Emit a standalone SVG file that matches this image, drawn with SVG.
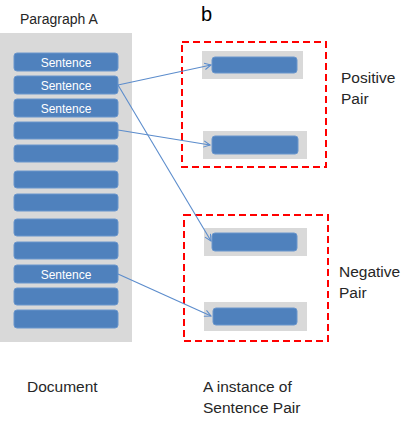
<svg xmlns="http://www.w3.org/2000/svg" width="418" height="423" viewBox="0 0 418 423">
<style>
text{font-family:"Liberation Sans",Arial,sans-serif;fill:#262626}
.bar{fill:#4f81bd;stroke:#6a96cc;stroke-width:1}
.bg{fill:#d9d9d9}
.st{fill:#ffffff;font-size:12px;text-anchor:middle}
.lbl{font-size:15.5px}
.red{fill:none;stroke:#ff0000;stroke-width:2;stroke-dasharray:7,4}
.conn{fill:none;stroke:#5b8ccc;stroke-width:1.1;marker-end:url(#ah)}
</style>
<defs>
<marker id="ah" viewBox="0 0 10 10" refX="9" refY="5" markerWidth="8" markerHeight="8" markerUnits="userSpaceOnUse" orient="auto">
<path d="M1,1 L9,5 L1,9" fill="none" stroke="#5b8ccc" stroke-width="1.3"/>
</marker>
</defs>
<rect width="418" height="423" fill="#ffffff"/>
<g id="document">
<rect class="bg" x="0" y="33" width="132" height="309"/>
<text x="20" y="24" style="font-size:14px">Paragraph A</text>
<text class="lbl" x="27" y="392">Document</text>
</g>
<g id="sentences">
<g id="s1"><rect class="bar" x="14" y="53" width="104" height="18" rx="3"/><text class="st" x="66" y="66.5">Sentence</text></g>
<g id="s2"><rect class="bar" x="14" y="76" width="104" height="18" rx="3"/><text class="st" x="66" y="89.5">Sentence</text></g>
<g id="s3"><rect class="bar" x="14" y="99" width="104" height="18" rx="3"/><text class="st" x="66" y="112.5">Sentence</text></g>
<g id="s4"><rect class="bar" x="14" y="122" width="104" height="17" rx="3"/></g>
<g id="s5"><rect class="bar" x="14" y="145" width="104" height="17" rx="3"/></g>
<g id="s6"><rect class="bar" x="14" y="171" width="104" height="17" rx="3"/></g>
<g id="s7"><rect class="bar" x="14" y="194" width="104" height="17" rx="3"/></g>
<g id="s8"><rect class="bar" x="14" y="219" width="104" height="17" rx="3"/></g>
<g id="s9"><rect class="bar" x="14" y="242" width="104" height="17" rx="3"/></g>
<g id="s10"><rect class="bar" x="14" y="265" width="104" height="18" rx="3"/><text class="st" x="66" y="278.5">Sentence</text></g>
<g id="s11"><rect class="bar" x="14" y="288" width="104" height="17" rx="3"/></g>
<g id="s12"><rect class="bar" x="14" y="310" width="104" height="18" rx="3"/></g>
</g>
<g id="title-b"><text x="201" y="21" style="font-size:20px;fill:#000">b</text></g>
<g id="positive-pair">
<rect class="red" x="182" y="42" width="144" height="125"/>
<rect class="bg" x="202" y="51" width="101" height="28"/>
<rect class="bar" x="212" y="57" width="85" height="16" rx="3"/>
<rect class="bg" x="203" y="131" width="104" height="28"/>
<rect class="bar" x="212" y="136" width="86" height="18" rx="3"/>
<text class="lbl" x="341" y="83">Positive</text>
<text class="lbl" x="341" y="104">Pair</text>
</g>
<g id="negative-pair">
<rect class="red" x="184" y="215" width="144" height="126"/>
<rect class="bg" x="204" y="228" width="103" height="28"/>
<rect class="bar" x="212" y="233" width="85" height="18" rx="3"/>
<rect class="bg" x="204" y="302" width="103" height="29"/>
<rect class="bar" x="213" y="308" width="84" height="17" rx="3"/>
<text class="lbl" x="339" y="277">Negative</text>
<text class="lbl" x="339" y="298">Pair</text>
</g>
<g id="caption"><text class="lbl" x="203" y="392">A instance of</text><text class="lbl" x="203" y="413">Sentence Pair</text></g>
<g id="connectors">
<line class="conn" x1="118" y1="85" x2="211" y2="65"/>
<line class="conn" x1="118" y1="85" x2="211" y2="241"/>
<line class="conn" x1="118" y1="130" x2="210" y2="145"/>
<line class="conn" x1="118" y1="274" x2="211" y2="316"/>
</g>
</svg>
